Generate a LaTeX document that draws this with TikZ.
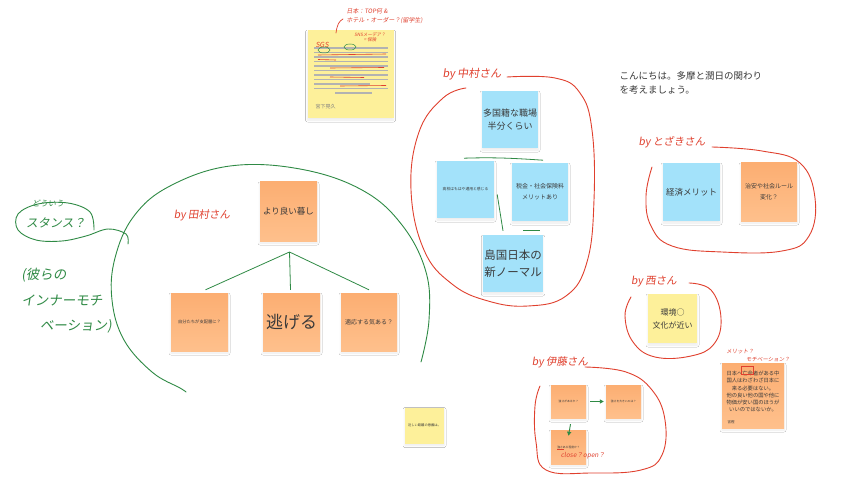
\documentclass[tikz,border=0pt]{standalone}
\usepackage{fontspec}
\setmainfont{Noto Sans CJK JP}
\newfontfamily\hand[FakeSlant=0.15]{Noto Sans CJK JP}
\usetikzlibrary{shadows.blur,arrows.meta}
\definecolor{nblue}{HTML}{A3E2FA}
\definecolor{norangeT}{HTML}{FCAE72}
\definecolor{norangeB}{HTML}{FEC08C}
\definecolor{nyellow}{HTML}{FDF09A}
\definecolor{penred}{HTML}{E0402E}
\definecolor{pengreen}{HTML}{2F8A45}
\definecolor{ink}{HTML}{3A3A3A}
\tikzset{
  note/.style={rectangle, inner sep=1pt, align=center, text=ink,
    blur shadow={shadow xshift=0pt, shadow yshift=-2pt, shadow opacity=8, shadow blur steps=6, shadow blur radius=2pt}},
  bluenote/.style={note, fill=nblue},
  orangenote/.style={note, top color=norangeT, bottom color=norangeB, draw=none},
  yellownote/.style={note, fill=nyellow},
  redpen/.style={draw=penred, line width=0.9pt, line cap=round, line join=round},
  greenpen/.style={draw=pengreen, line width=0.9pt, line cap=round, line join=round},
  redtext/.style={text=penred, font=\hand},
  greentext/.style={text=pengreen, font=\hand},
  link/.style={draw=pengreen, line width=0.8pt},
}
\begin{document}
\begin{tikzpicture}[x=1pt,y=-1pt]
\useasboundingbox[fill=white] (0,0) rectangle (841,492);

% ---------- top-left sticky note ----------
\node[yellownote, minimum width=86pt, minimum height=88pt] (sgs) at (350.5,74) {};
\node[redtext, font=\hand\fontsize{7}{7}\selectfont, anchor=west] (sgsh) at (312,45) {SGS};
\foreach \yy in {48,52.5,57,61.5,66,70.5,75,79.5,84,88.5,93}{
  \draw[gray!60, line width=1.5pt] (314,\yy) -- (388,\yy);
}
\draw[nyellow, line width=2pt] (370,84) -- (389,84);
\draw[nyellow, line width=2pt] (313,93) -- (389,93);
\draw[gray!60, line width=1.5pt] (335,93) -- (372,93);
\draw[penred, line width=0.6pt] (318,55) -- (386,54) (318,59.5) -- (336,60) (330,68) -- (384,67.5) (330,77) -- (364,77.5) (340,86) -- (386,85.5);
\draw[pengreen, line width=0.5pt] (324,50) ellipse (6pt and 3pt) (350,47) ellipse (6pt and 3pt);
\node[text=gray, font=\fontsize{5}{5}\selectfont, anchor=west] (sgsname) at (312,107) {宮下晃久};
\node[redtext, font=\hand\fontsize{4.5}{5}\selectfont, align=center] (sgsn1) at (370,37) {SNSメーデア？\\= 保険};
\node[redtext, font=\hand\fontsize{6}{7}\selectfont, anchor=west] (sgsn2) at (343,11) {日本：TOP何 \&};
\node[redtext, font=\hand\fontsize{6}{7}\selectfont, anchor=west] (sgsn3) at (343,21) {ホテル・オーダー？(留学生)};
\draw[redpen, line width=0.7pt] (336,33) .. controls (337,25) and (339,21) .. (343,19);

% ---------- greeting ----------
\node[text=ink, font=\fontsize{9.5}{14}\selectfont, align=left, anchor=north west] (greet) at (616,68) {こんにちは。多摩と潤日の関わり\\を考えましょう。};

% ---------- Nakamura cluster ----------
\draw[redpen] plot[smooth, tension=0.7] coordinates {(507,77) (555,78) (580,93) (592,130) (594,200) (587,262) (566,296) (528,306) (488,301) (452,284) (424,250) (411,190) (419,132) (443,98) (466,88)};
\node[redtext, font=\hand\fontsize{11}{11}\selectfont] (byNaka) at (472,74) {by 中村さん};
\node[bluenote, minimum width=56pt, minimum height=57pt, font=\fontsize{9}{13}\selectfont] (n1) at (510,119.5) {多国籍な職場\\半分くらい};
\node[bluenote, minimum width=57pt, minimum height=57pt, font=\fontsize{3.8}{4}\selectfont] (n2) at (465.5,189.5) {高校はもはや通用と感じる};
\node[bluenote, minimum width=56pt, minimum height=58pt, font=\fontsize{6}{11}\selectfont] (n3) at (540,192) {税金・社会保険料\\メリットあり};
\node[bluenote, minimum width=56pt, minimum height=57pt, font=\fontsize{11.5}{17}\selectfont] (n4) at (513,263.5) {島国日本の\\新ノーマル};
\draw[link] ([xshift=-46pt,yshift=-10pt]n1.south) .. controls +(30,-1) and +(-30,-2) .. ([xshift=33pt,yshift=-12pt]n1.south);
\draw[link] ([xshift=3pt,yshift=-5pt]n2.east) -- ([xshift=-10pt,yshift=4pt]n4.north);
\draw[link] ([xshift=10pt,yshift=4pt]n4.north) -- ([xshift=27pt,yshift=4pt]n4.north);

% ---------- Tosaki cluster ----------
\draw[redpen] plot[smooth, tension=0.7] coordinates {(712,147) (762,151) (800,163) (815,198) (809,236) (782,251) (722,252) (672,246) (651,226) (646,196) (652,167)};
\node[redtext, font=\hand\fontsize{10.5}{11}\selectfont] (byTosa) at (672,142) {by とざきさん};
\node[bluenote, minimum width=57pt, minimum height=58pt, font=\fontsize{8.5}{10}\selectfont] (t1) at (691.5,192) {経済メリット};
\node[orangenote, minimum width=56pt, minimum height=58pt, font=\fontsize{6}{11}\selectfont] (t2) at (769,192) {治安や社会ルール\\変化？};

% ---------- Nishi cluster ----------
\draw[redpen] plot[smooth, tension=0.7] coordinates {(689,283) (711,290) (721,318) (714,344) (691,356) (655,357) (633,342) (625,316) (631,297)};
\node[redtext, font=\hand\fontsize{10.5}{11}\selectfont] (byNishi) at (654,282) {by 西さん};
\node[yellownote, minimum width=49pt, minimum height=49pt, font=\fontsize{8}{13}\selectfont] (w1) at (672.5,318.5) {環境○\\文化が近い};

% ---------- Tamura cluster ----------
\draw[greenpen] plot[smooth, tension=0.65] coordinates {(186,392) (180,388) (152,372) (124,340) (112,300) (115,258) (134,216) (170,186) (230,166) (300,169) (362,190) (402,225) (426,272) (429,320) (421,362)};
\draw[greenpen] plot[smooth, tension=0.6] coordinates {(94,230) (90,212) (68,203) (38,204) (18,214) (18,230) (36,240) (62,241) (86,236) (108,229) (126,234) (128,244)};
\node[redtext, font=\hand\fontsize{10.5}{11}\selectfont] (byTamura) at (202,215) {by 田村さん};
\node[orangenote, minimum width=57pt, minimum height=59pt, font=\fontsize{8.5}{10}\selectfont] (m1) at (288.5,211.5) {より良い暮し};
\node[orangenote, minimum width=57pt, minimum height=58pt, font=\fontsize{4.3}{5}\selectfont] (m2) at (199.5,322) {自分たちが支配層に？};
\node[orangenote, minimum width=57pt, minimum height=58pt, font=\fontsize{17}{18}\selectfont] (m3) at (291.5,322) {逃げる};
\node[orangenote, minimum width=56pt, minimum height=58pt, font=\fontsize{6}{7}\selectfont] (m4) at (369,322) {適応する気ある？};
\coordinate (mj) at (289.5,252);
\draw[link] (mj) -- ([xshift=6pt,yshift=3pt]m2.north);
\draw[link] (mj) -- ([xshift=-1pt,yshift=3pt]m3.north);
\draw[link] (mj) -- ([yshift=3pt]m4.north);
\node[greentext, font=\hand\fontsize{8}{9}\selectfont] (hw1) at (48,203) {どういう};
\node[greentext, font=\hand\fontsize{12}{13}\selectfont] (hw2) at (56,223) {スタンス？};
\node[greentext, font=\hand\fontsize{13.5}{14}\selectfont] (hw3) at (44,275) {(彼らの};
\node[greentext, font=\hand\fontsize{13.5}{14}\selectfont] (hw4) at (62,300) {インナーモチ};
\node[greentext, font=\hand\fontsize{13.5}{14}\selectfont] (hw5) at (76,326) {ベーション)};

% ---------- small yellow note ----------
\node[yellownote, minimum width=39pt, minimum height=36pt, font=\fontsize{3.3}{4}\selectfont] (y1) at (424.5,425.5) {近しい距離の意義は。};

% ---------- Ito cluster ----------
\draw[redpen] plot[smooth, tension=0.7] coordinates {(585,367) (626,372) (652,390) (665,420) (662,455) (641,470) (592,473) (546,470) (536,442) (535,406) (540,386)};
\node[redtext, font=\hand\fontsize{10.5}{11}\selectfont] (byIto) at (560,362) {by 伊藤さん};
\node[orangenote, minimum width=35pt, minimum height=33pt, font=\fontsize{2.8}{3}\selectfont] (i1) at (568.5,401.5) {強さがあるか？};
\node[orangenote, minimum width=35pt, minimum height=33pt, font=\fontsize{2.8}{3}\selectfont] (i2) at (623.5,401.5) {強さを大きいのは？};
\node[orangenote, minimum width=35pt, minimum height=34pt, font=\fontsize{2.8}{3}\selectfont] (i3) at (568.5,447) {強さある程度か？};
\draw[-{Triangle[length=4pt,width=4pt]}, pengreen, line width=0.9pt] ([xshift=4pt]i1.east) -- ([xshift=-2pt]i2.west);
\draw[-{Triangle[length=4pt,width=4pt]}, pengreen, line width=0.9pt] ([xshift=2pt,yshift=-6pt]i1.south) -- ([xshift=0pt,yshift=-6pt]i3.north);
\draw[penred, line width=0.5pt] (557,449) -- (564,449);
\node[redtext, font=\hand\fontsize{6.5}{7}\selectfont] (co) at (583,456) {close？open？};

% ---------- bottom-right note ----------
\node[orangenote, minimum width=62pt, minimum height=65pt, font=\fontsize{5.3}{7.2}\selectfont] (r1) at (753,395.5) {日本へ亡命者がある中\\国人はわざわざ日本に\\来る必要はない。\\他の良い他の国や他に\\物価が安い国のほうが\\いいのではないか。\\[1pt]};
\node[text=ink, font=\fontsize{3.5}{4}\selectfont] (r1n) at (731,422) {宮樫};
\draw[penred, line width=0.7pt] (741,366) rectangle (753,374);
\node[redtext, font=\hand\fontsize{5.5}{6}\selectfont] (ra1) at (740,352) {メリット？};
\node[redtext, font=\hand\fontsize{5.5}{6}\selectfont] (ra2) at (768,360) {モチベーション？};
\end{tikzpicture}
\end{document}
